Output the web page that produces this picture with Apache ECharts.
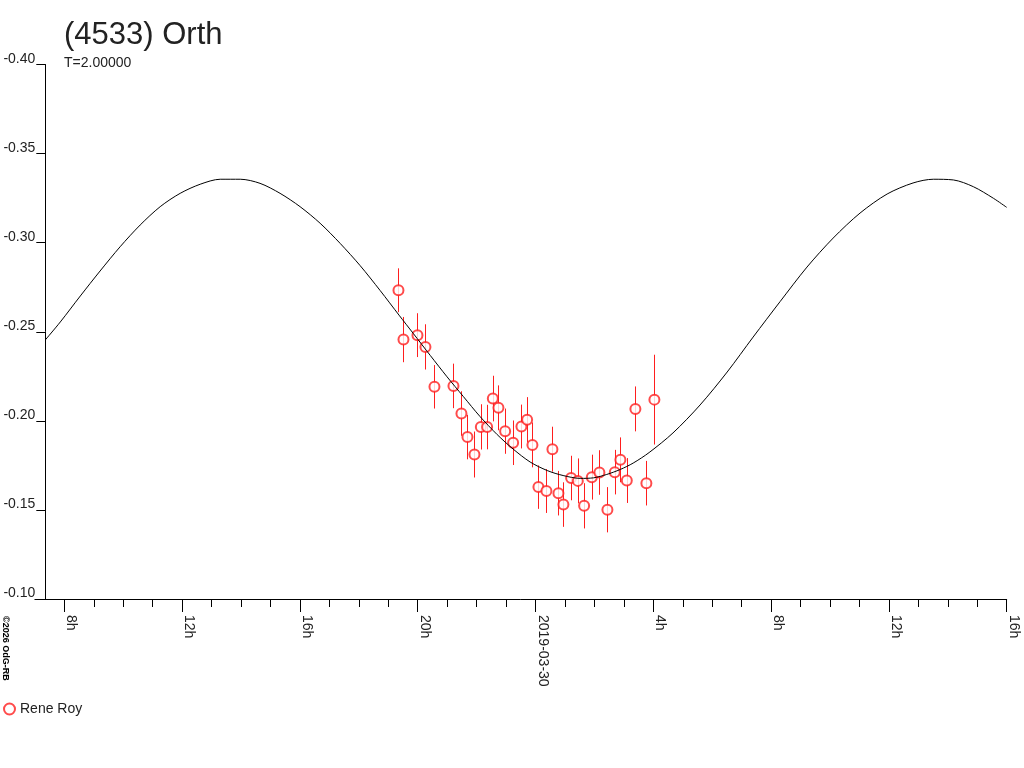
<!DOCTYPE html>
<html>
<head>
<meta charset="utf-8">
<title>(4533) Orth</title>
<script src="https://cdn.jsdelivr.net/npm/echarts@6/dist/echarts.min.js"></script>
<style>
  html, body { margin: 0; padding: 0; background: #fff; }
  #chart { width: 1024px; height: 768px; }
</style>
</head>
<body>
<div id="chart"></div>
<script>
// hours relative to 2019-03-30 00:00
const obsHour = [-4.65, -4.48, -4.005, -3.734, -3.428, -2.783, -2.512, -2.308, -2.07, -1.853,
  -1.639, -1.446, -1.256, -1.028, -0.757, -0.475, -0.282, -0.102, 0.102, 0.373,
  0.577, 0.781, 0.95, 1.212, 1.439, 1.653, 1.914, 2.172, 2.444, 2.695,
  2.885, 3.102, 3.394, 3.767, 4.039];
const obsMag = [-0.2733, -0.2456, -0.2481, -0.2415, -0.2191, -0.2196, -0.2041, -0.1909, -0.1811, -0.1966,
  -0.1965, -0.2125, -0.2073, -0.1942, -0.1877, -0.1968, -0.2006, -0.1865, -0.1628, -0.1606,
  -0.1841, -0.1594, -0.1530, -0.1679, -0.1663, -0.1523, -0.1684, -0.1710, -0.1501, -0.1712,
  -0.1781, -0.1665, -0.2067, -0.1650, -0.2119];
const obsErr = [0.0123, 0.0127, 0.0123, 0.0127, 0.0122, 0.0125, 0.0125, 0.0125, 0.0129, 0.0127,
  0.0125, 0.0128, 0.0126, 0.0127, 0.0125, 0.0123, 0.0127, 0.0126, 0.0122, 0.0123,
  0.0126, 0.0125, 0.0125, 0.0125, 0.0126, 0.0127, 0.0126, 0.0125, 0.0127, 0.0125,
  0.0126, 0.0126, 0.0126, 0.0125, 0.0252];

// fitted curve
const fitHour = [-16.64, -16.13, -15.45, -14.78, -14.1, -13.42, -12.74, -12.06, -11.38, -10.7,
  -10.02, -9.35, -8.67, -7.99, -7.31, -6.63, -5.95, -5.27, -4.63, -4.15,
  -3.57, -3.0, -2.45, -1.88, -1.3, -0.76, -0.18, 0.4, 0.94, 1.52,
  1.97, 2.42, 2.88, 3.32, 3.86, 4.67, 5.59, 6.51, 7.39, 8.31,
  9.22, 10.11, 11.02, 11.94, 12.82, 13.51, 14.19, 14.87, 15.55, 16.0];
const fitMag = [-0.2454, -0.2555, -0.2701, -0.2841, -0.2977, -0.3099, -0.3202, -0.3277, -0.3328, -0.3356,
  -0.3356, -0.3333, -0.3277, -0.3202, -0.3109, -0.2996, -0.2871, -0.2731, -0.2593, -0.2491,
  -0.2367, -0.2247, -0.2137, -0.2024, -0.1923, -0.1842, -0.1769, -0.1721, -0.1693, -0.1677,
  -0.1680, -0.1699, -0.1727, -0.1763, -0.1822, -0.1932, -0.2089, -0.2274, -0.2470, -0.2670,
  -0.2863, -0.3026, -0.3166, -0.3273, -0.3335, -0.3356, -0.3352, -0.3314, -0.3249, -0.3198];

const tickHours = [-16, -12, -8, -4, 0, 4, 8, 12, 16];
const tickLabels = ['8h', '12h', '16h', '20h', '2019-03-30', '4h', '8h', '12h', '16h'];

const FONT = '"Liberation Sans", Arial, sans-serif';
const RED = '#ff1e1e';
const TXT = '#222';

const chart = echarts.init(document.getElementById('chart'));

// plot area geometry (px)
const TOP = 64.5, BOTTOM = 768 - 599, RIGHT = 1024 - 1006.7;

function gridAt(left) {
  return { left: left, right: RIGHT, top: TOP, bottom: BOTTOM, containLabel: false, outerBoundsMode: 'none' };
}

const option = {
  animation: false,
  backgroundColor: '#fff',
  textStyle: { fontFamily: FONT },
  title: {
    text: '(4533) Orth',
    subtext: 'T=2.00000',
    left: 64,
    top: 20,
    itemGap: 5,
    padding: 0,
    textStyle: { fontSize: 31, fontWeight: 'normal', color: TXT, fontFamily: FONT },
    subtextStyle: { fontSize: 14, color: TXT, fontFamily: FONT }
  },
  legend: {
    left: 3,
    top: 702,
    padding: 0,
    itemWidth: 11,
    itemHeight: 11,
    itemGap: 6,
    textStyle: { fontSize: 14, color: TXT, fontFamily: FONT },
    itemStyle: { borderWidth: 1 },
    data: [{ name: 'Rene Roy', icon: 'emptyCircle' }]
  },
  graphic: [{
    type: 'text',
    x: 1,
    y: 616,
    rotation: -Math.PI / 2,
    style: { text: '\u00a92026 OdG-RB', fontSize: 9, fontWeight: 'bold', fill: '#000', verticalAlign: 'bottom', fontFamily: FONT }
  }],
  grid: [gridAt(34.9), gridAt(45.3), gridAt(64.3), gridAt(64.3)],
  xAxis: [
    { // axis line only
      gridIndex: 0, type: 'value', min: -17, max: 16,
      axisLine: { show: true, onZero: false, lineStyle: { color: '#000', width: 1 } },
      axisTick: { show: false }, axisLabel: { show: false }, splitLine: { show: false }
    },
    { // data axis
      gridIndex: 1, type: 'value', min: fitHour[0], max: 16, show: false,
      axisLine: { onZero: false }
    },
    { // hourly ticks
      gridIndex: 2, type: 'value', min: -16, max: 16, interval: 1,
      axisLine: { show: false, onZero: false },
      axisTick: { show: true, length: 8, lineStyle: { color: '#000', width: 1 } },
      axisLabel: { show: false }, splitLine: { show: false }
    },
    { // 4-hour ticks and labels
      gridIndex: 3, type: 'value', min: -16, max: 16, interval: 4,
      axisLine: { show: false, onZero: false },
      axisTick: { show: true, length: 13, lineStyle: { color: '#000', width: 1 } },
      axisLabel: {
        show: true, rotate: -90, margin: 16, align: 'left', verticalAlign: 'bottom',
        fontSize: 14, color: TXT, fontFamily: FONT,
        formatter: function (v) {
          const i = tickHours.indexOf(Math.round(v));
          return i >= 0 ? tickLabels[i] : '';
        }
      },
      splitLine: { show: false }
    }
  ],
  yAxis: [
    { gridIndex: 0, type: 'value', show: false, axisLine: { onZero: false } },
    {
      gridIndex: 1, type: 'value', inverse: true, min: -0.40, max: -0.10, interval: 0.05,
      axisLine: { show: true, onZero: false, lineStyle: { color: '#000', width: 1 } },
      axisTick: { show: true, length: 9, lineStyle: { color: '#000', width: 1 } },
      axisLabel: {
        show: true, margin: 10, verticalAlign: 'bottom', lineHeight: 11, fontSize: 14, color: TXT, fontFamily: FONT,
        formatter: function (v) { return v.toFixed(2); }
      },
      splitLine: { show: false }
    },
    { gridIndex: 2, type: 'value', show: false, axisLine: { onZero: false } },
    { gridIndex: 3, type: 'value', show: false, axisLine: { onZero: false } }
  ],
  series: [
    {
      name: 'fit',
      type: 'line',
      xAxisIndex: 1, yAxisIndex: 1,
      data: fitHour.map((h, i) => [h, fitMag[i]]),
      smooth: 0.3,
      showSymbol: false,
      lineStyle: { color: '#000', width: 1 },
      silent: true
    },
    {
      name: 'errors',
      type: 'custom',
      xAxisIndex: 1, yAxisIndex: 1,
      data: obsHour.map((h, i) => [h, obsMag[i], obsErr[i]]),
      encode: { x: 0, y: 1 },
      renderItem: function (params, api) {
        const x = api.value(0), m = api.value(1), e = api.value(2);
        const p1 = api.coord([x, m - e]);
        const p2 = api.coord([x, m + e]);
        const px = Math.round(p1[0]) + 0.5;
        return {
          type: 'line',
          shape: { x1: px, y1: p1[1], x2: px, y2: p2[1] },
          style: { stroke: RED, lineWidth: 1 }
        };
      },
      silent: true
    },
    {
      name: 'Rene Roy',
      type: 'scatter',
      xAxisIndex: 1, yAxisIndex: 1,
      data: obsHour.map((h, i) => [h, obsMag[i]]),
      symbol: 'emptyCircle',
      symbolSize: 10,
      itemStyle: { color: RED, borderColor: RED, borderWidth: 1 }
    }
  ]
};

chart.setOption(option);
</script>
</body>
</html>
